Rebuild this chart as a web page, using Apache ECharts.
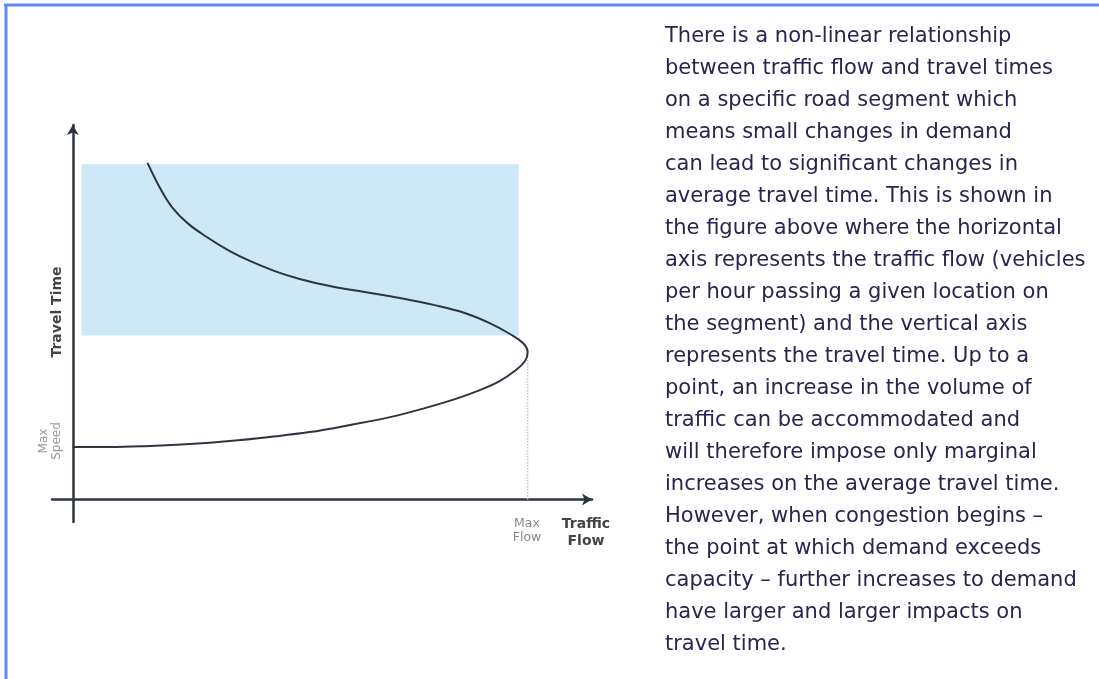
<!DOCTYPE html>
<html>
<head>
<meta charset="utf-8">
<script src="https://cdn.jsdelivr.net/npm/echarts@6/dist/echarts.min.js"></script>
<style>
  html, body { margin: 0; padding: 0; background: #fff; }
  #main { width: 1099px; height: 679px; }
</style>
</head>
<body>
<div id="main"></div>
<script>
// curve: upper branch (congested) then lower branch (free flow), flow vs travel time
var curveFlow = [14.4, 16.8, 19.1, 22.1, 25.8, 29.9, 34.1, 38.9, 43.7, 49.5, 56.2, 63.0, 69.7, 75.5, 80.3, 84.2, 86.7, 87.6,
                 87.1, 85.1, 82.2, 78.4, 73.6, 67.8, 61.1, 53.4, 45.6, 37.9, 30.2, 22.5, 14.8, 7.1, 0];
var curveTime = [89.9, 83.2, 78.1, 73.8, 70.1, 66.6, 63.7, 61.0, 58.9, 57.0, 55.4, 53.8, 51.9, 49.8, 47.1, 44.2, 41.8, 39.4,
                 37.0, 34.3, 31.6, 29.2, 26.8, 24.4, 22.0, 19.9, 18.0, 16.7, 15.6, 14.8, 14.3, 14.0, 14.0];
var maxFlow = 87.6;
var maxFlowTime = 39.4;
var congestionFlow = [1.7, 85.9];
var congestionTime = [43.8, 89.5];

var paragraph = [
    'There is a non-linear relationship',
    'between traffic flow and travel times',
    'on a specific road segment which',
    'means small changes in demand',
    'can lead to significant changes in',
    'average travel time. This is shown in',
    'the figure above where the horizontal',
    'axis represents the traffic flow (vehicles',
    'per hour passing a given location on',
    'the segment) and the vertical axis',
    'represents the travel time. Up to a',
    'point, an increase in the volume of',
    'traffic can be accommodated and',
    'will therefore impose only marginal',
    'increases on the average travel time.',
    'However, when congestion begins \u2013',
    'the point at which demand exceeds',
    'capacity \u2013 further increases to demand',
    'have larger and larger impacts on',
    'travel time.'
];

var curveData = curveFlow.map(function (f, i) { return [f, curveTime[i]]; });

var myChart = echarts.init(document.getElementById('main'));
var axisColor = '#2d3440';
var font = '"DejaVu Sans", sans-serif';

option = {
    backgroundColor: '#fff',
    animation: false,
    grid: { left: 52, right: 507, top: 125, bottom: 157 },
    xAxis: {
        type: 'value', min: -4, max: 100,
        axisLine: { onZero: true, lineStyle: { color: axisColor, width: 2.5 }, symbol: ['none', 'arrow'], symbolSize: [9, 10] },
        axisTick: { show: false }, axisLabel: { show: false }, splitLine: { show: false }
    },
    yAxis: {
        type: 'value', min: -6, max: 100,
        axisLine: { onZero: true, lineStyle: { color: axisColor, width: 2.5 }, symbol: ['none', 'arrow'], symbolSize: [9, 10] },
        axisTick: { show: false }, axisLabel: { show: false }, splitLine: { show: false }
    },
    series: [
        {
            type: 'line',
            data: curveData,
            smooth: 0.4,
            symbol: 'none',
            lineStyle: { color: axisColor, width: 2 },
            z: 5,
            markArea: {
                silent: true,
                itemStyle: { color: '#cde9f8' },
                data: [[
                    { xAxis: congestionFlow[0], yAxis: congestionTime[1] },
                    { xAxis: congestionFlow[1], yAxis: congestionTime[0] }
                ]]
            }
        },
        {
            type: 'line',
            data: [[maxFlow, 0], [maxFlow, maxFlowTime]],
            symbol: 'none',
            lineStyle: { color: '#c4c4c4', width: 1.5, type: 'dotted' },
            z: 3
        }
    ],
    graphic: [
        { type: 'line', shape: { x1: 4, y1: 5, x2: 1099, y2: 5 }, style: { stroke: '#6288f6', lineWidth: 3 } },
        { type: 'line', shape: { x1: 6, y1: 4, x2: 6, y2: 679 }, style: { stroke: '#6288f6', lineWidth: 3 } },
        {
            type: 'text', x: 665, y: 21,
            style: { text: paragraph.join('\n'), font: '21px ' + font, lineHeight: 32, fill: '#2b2450' }
        },
        {
            type: 'text', x: 329, y: 255,
            style: { text: 'Congestion', font: 'bold 13.5px ' + font, fill: '#3f4a5c', align: 'center', verticalAlign: 'middle' }
        },
        {
            type: 'text', x: 57, y: 312, rotation: Math.PI / 2,
            style: { text: 'Travel Time', font: 'bold 14px ' + font, fill: '#444', align: 'center', verticalAlign: 'middle' }
        },
        {
            type: 'text', x: 50, y: 441, rotation: Math.PI / 2,
            style: { text: 'Max\nSpeed', font: '12px ' + font, fill: '#999', align: 'center', verticalAlign: 'middle', lineHeight: 13 }
        },
        {
            type: 'text', x: 527, y: 531,
            style: { text: 'Max\nFlow', font: '12.5px ' + font, fill: '#888', align: 'center', verticalAlign: 'middle', lineHeight: 14 }
        },
        {
            type: 'text', x: 586, y: 533,
            style: { text: 'Traffic\nFlow', font: 'bold 14px ' + font, fill: '#444', align: 'center', verticalAlign: 'middle', lineHeight: 17 }
        }
    ]
};
myChart.setOption(option);
</script>
</body>
</html>
